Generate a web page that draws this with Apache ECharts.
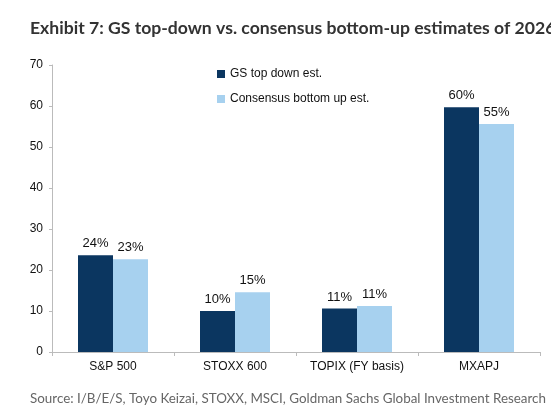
<!DOCTYPE html>
<html><head><meta charset="utf-8">
<script src="https://cdn.jsdelivr.net/npm/echarts@6/dist/echarts.min.js"></script>
<style>html,body{margin:0;padding:0;background:#fff}#c{width:551px;height:419px}</style>
</head><body><div id="c"></div>
<script>
const categories = ['S&P 500', 'STOXX 600', 'TOPIX (FY basis)', 'MXAPJ'];
const gsTopDown = [23.6, 10.0, 10.6, 59.7];
const consensusBottomUp = [22.6, 14.6, 11.2, 55.6];
const gsLabels = ['24%', '10%', '11%', '60%'];
const consensusLabels = ['23%', '15%', '11%', '55%'];
const yTicks = [0, 10, 20, 30, 40, 50, 60, 70];

const chart = echarts.init(document.getElementById('c'), null, {renderer: 'canvas'});
const labelStyle = (arr) => ({
  show: true, position: 'top', distance: 5,
  fontFamily: 'Liberation Sans, Arial', fontSize: 13, color: '#111',
  formatter: p => arr[p.dataIndex]
});
chart.setOption({
  animation: false,
  title: [{
    text: 'Exhibit 7: GS top-down vs. consensus bottom-up estimates of 2026',
    left: 25, top: 14,
    textStyle: {fontFamily: 'Lato', fontWeight: 'bold', fontSize: 17.6, color: '#333'}
  }, {
    text: 'Source: I/B/E/S, Toyo Keizai, STOXX, MSCI, Goldman Sachs Global Investment Research',
    left: 25, top: 387,
    textStyle: {fontFamily: 'Lato', fontWeight: 'normal', fontSize: 13.4, color: '#666'}
  }],
  legend: {
    orient: 'vertical', left: 212, top: 63, itemWidth: 8, itemHeight: 8, itemGap: 13,
    icon: 'rect',
    textStyle: {fontFamily: 'Liberation Sans, Arial', fontSize: 12, color: '#111'},
    data: ['GS top down est.', 'Consensus bottom up est.']
  },
  grid: {left: 52, right: 11, top: 65, bottom: 67, containLabel: false},
  xAxis: {
    type: 'category', data: categories,
    axisLine: {lineStyle: {color: '#bbb'}},
    axisTick: {show: true, length: 4, lineStyle: {color: '#bbb'}},
    axisLabel: {fontFamily: 'Liberation Sans, Arial', fontSize: 12, color: '#111', margin: 9}
  },
  yAxis: {
    type: 'value', min: yTicks[0], max: yTicks[yTicks.length - 1], interval: 10,
    splitLine: {show: false},
    axisLine: {show: true, lineStyle: {color: '#bbb'}},
    axisTick: {show: true, length: 3, lineStyle: {color: '#bbb'}},
    axisLabel: {fontFamily: 'Liberation Sans, Arial', fontSize: 12, color: '#111', margin: 9}
  },
  series: [{
    name: 'GS top down est.', type: 'bar', data: gsTopDown,
    barWidth: 35, barGap: '0%',
    itemStyle: {color: '#0B3660'}, label: labelStyle(gsLabels)
  }, {
    name: 'Consensus bottom up est.', type: 'bar', data: consensusBottomUp,
    barWidth: 35,
    itemStyle: {color: '#A7D1EF'}, label: labelStyle(consensusLabels)
  }]
});
</script></body></html>
